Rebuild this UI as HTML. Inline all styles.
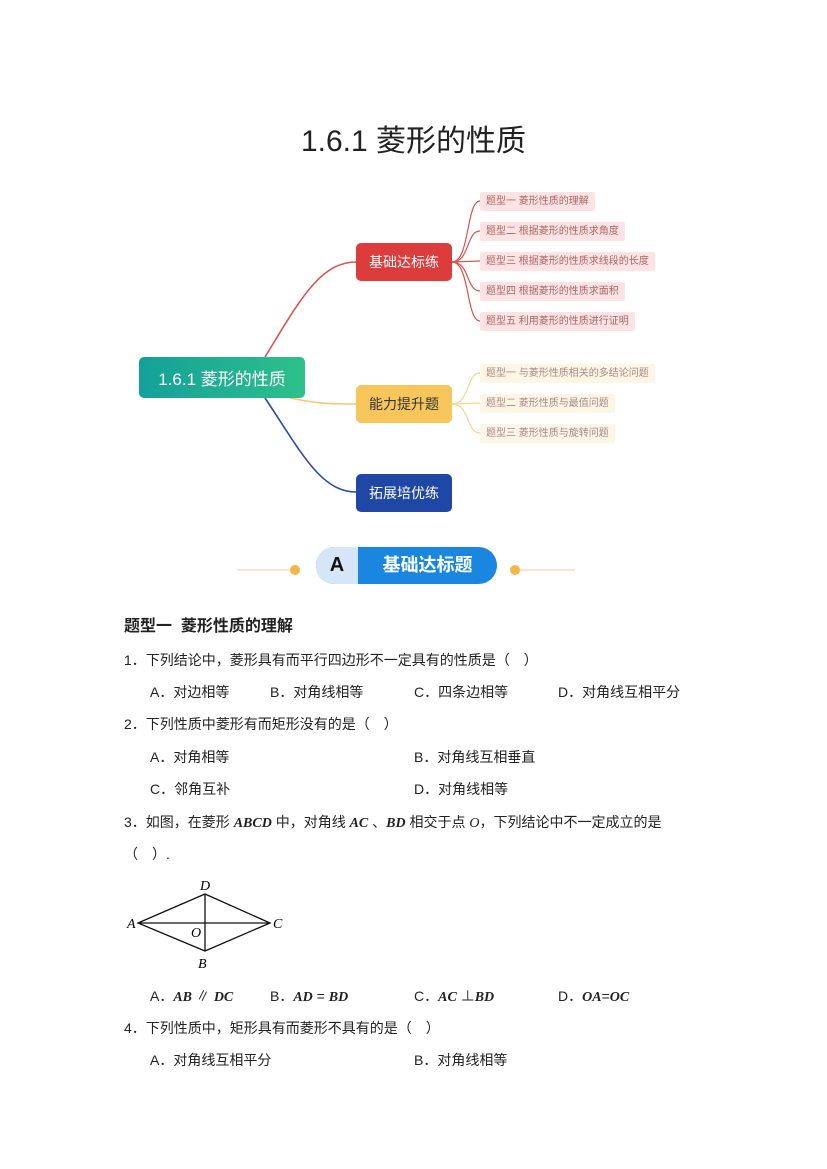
<!DOCTYPE html>
<html><head><meta charset="utf-8"><style>
body{margin:0;background:#fff;width:827px;height:1169px;position:relative;font-family:"Liberation Sans","Noto Sans CJK SC",sans-serif;color:#222;overflow:hidden}
.a{position:absolute;white-space:nowrap}
.q{font-size:14px}
.box{position:absolute;border-radius:5px;color:#fff;font-size:14px;display:flex;align-items:center;justify-content:center}
.leaf{position:absolute;height:19px;font-size:10px;line-height:19px;padding:0 6px;border-radius:2px}
.r{background:#fde3e3;color:#a66}
.y{background:#fdf6e5;color:#a88}
i.m{font-family:"Liberation Serif",serif;font-weight:bold;font-style:italic}
</style></head><body>
<div class="a" style="left:0;width:827px;text-align:center;top:116px;font-size:30px;color:#222">1.6.1 菱形的性质</div>
<svg class="a" style="left:0;top:0" width="827" height="600">
<g fill="none" stroke-width="1.6">
<path d="M265 357 C300 300 320 262 356 262" stroke="#d9534f"/>
<path d="M290 398 C320 404 330 404 356 404" stroke="#f5c770"/>
<path d="M265 398 C300 450 320 492 356 492" stroke="#2c4aa8"/>
<g stroke="#d9534f" stroke-width="1.2">
<path d="M452 262 C470 262 466 201 480 201"/><path d="M452 262 C470 262 466 231 480 231"/><path d="M452 262 L480 261"/><path d="M452 262 C470 262 466 291 480 291"/><path d="M452 262 C470 262 466 321 480 321"/></g>
<g stroke="#f5d590" stroke-width="1.2">
<path d="M452 404 C470 404 466 373 480 373"/><path d="M452 404 L480 403"/><path d="M452 404 C470 404 466 433 480 433"/></g>
<line x1="237" y1="570" x2="290" y2="570" stroke="#f0c8a0" stroke-width="1"/>
<line x1="520" y1="570" x2="575" y2="570" stroke="#f0c8a0" stroke-width="1"/>
</g>
<circle cx="295" cy="570" r="5" fill="#f5b547"/><circle cx="515" cy="570" r="5" fill="#f5b547"/>
</svg>
<div class="box" style="left:139px;top:357px;width:166px;height:41px;font-size:17px;background:linear-gradient(90deg,#14a09a,#2ec08a)">1.6.1 菱形的性质</div>
<div class="box" style="left:356px;top:243px;width:96px;height:38px;background:#dc3c3c">基础达标练</div>
<div class="box" style="left:356px;top:385px;width:96px;height:38px;background:#f7c65a;color:#333">能力提升题</div>
<div class="box" style="left:356px;top:474px;width:96px;height:38px;background:#1f47a6">拓展培优练</div>
<div class="leaf r" style="left:480px;top:192px">题型一 菱形性质的理解</div>
<div class="leaf r" style="left:480px;top:222px">题型二 根据菱形的性质求角度</div>
<div class="leaf r" style="left:480px;top:252px">题型三 根据菱形的性质求线段的长度</div>
<div class="leaf r" style="left:480px;top:282px">题型四 根据菱形的性质求面积</div>
<div class="leaf r" style="left:480px;top:312px">题型五 利用菱形的性质进行证明</div>
<div class="leaf y" style="left:480px;top:364px">题型一 与菱形性质相关的多结论问题</div>
<div class="leaf y" style="left:480px;top:394px">题型二 菱形性质与最值问题</div>
<div class="leaf y" style="left:480px;top:424px">题型三 菱形性质与旋转问题</div>
<div class="a" style="left:316px;top:547px;width:181px;height:37px;border-radius:19px;background:#1a86e0;overflow:hidden">
<div class="a" style="left:0;top:0;width:42px;height:37px;background:#d4e6f8;color:#111;font-weight:bold;font-size:20px;line-height:37px;text-align:center">A</div>
<div class="a" style="left:42px;top:0;width:139px;line-height:37px;text-align:center;color:#fff;font-weight:bold;font-size:18px">基础达标题</div></div>
<div class="a" style="left:124px;top:612px;font-size:16px;font-weight:bold">题型一&nbsp; 菱形性质的理解</div>
<div class="a q" style="left:124px;top:650px">1．下列结论中，菱形具有而平行四边形不一定具有的性质是（　）</div>
<div class="a q" style="left:150px;top:682px">A．对边相等</div><div class="a q" style="left:270px;top:682px">B．对角线相等</div><div class="a q" style="left:414px;top:682px">C．四条边相等</div><div class="a q" style="left:558px;top:682px">D．对角线互相平分</div>
<div class="a q" style="left:124px;top:714px">2．下列性质中菱形有而矩形没有的是（　）</div>
<div class="a q" style="left:150px;top:747px">A．对角相等</div><div class="a q" style="left:414px;top:747px">B．对角线互相垂直</div>
<div class="a q" style="left:150px;top:779px">C．邻角互补</div><div class="a q" style="left:414px;top:779px">D．对角线相等</div>
<div class="a q" style="left:124px;top:812px">3．如图，在菱形 <i class="m">ABCD</i> 中，对角线 <i class="m">AC</i> 、<i class="m">BD</i> 相交于点 <i style="font-family:'Liberation Serif',serif">O</i>，下列结论中不一定成立的是</div>
<div class="a q" style="left:124px;top:844px">（　）.</div>
<svg class="a" style="left:120px;top:872px" width="180" height="100" font-family="Liberation Serif" font-style="italic" font-size="14">
<path d="M18 51 L85 22 L150 51 L85 79 Z M18 51 L150 51 M85 22 L85 79" fill="none" stroke="#111" stroke-width="1.3"/>
<text x="80" y="18">D</text><text x="7" y="56">A</text><text x="153" y="56">C</text><text x="71" y="65">O</text><text x="78" y="96">B</text></svg>
<div class="a q" style="left:150px;top:986px">A．<i class="m">AB</i> ∥ <i class="m">DC</i></div><div class="a q" style="left:270px;top:986px">B．<i class="m">AD</i> = <i class="m">BD</i></div><div class="a q" style="left:414px;top:986px">C．<i class="m">AC</i> ⊥<i class="m">BD</i></div><div class="a q" style="left:558px;top:986px">D．<i class="m">OA</i>=<i class="m">OC</i></div>
<div class="a q" style="left:124px;top:1018px">4．下列性质中，矩形具有而菱形不具有的是（　）</div>
<div class="a q" style="left:150px;top:1050px">A．对角线互相平分</div><div class="a q" style="left:414px;top:1050px">B．对角线相等</div>
</body></html>
